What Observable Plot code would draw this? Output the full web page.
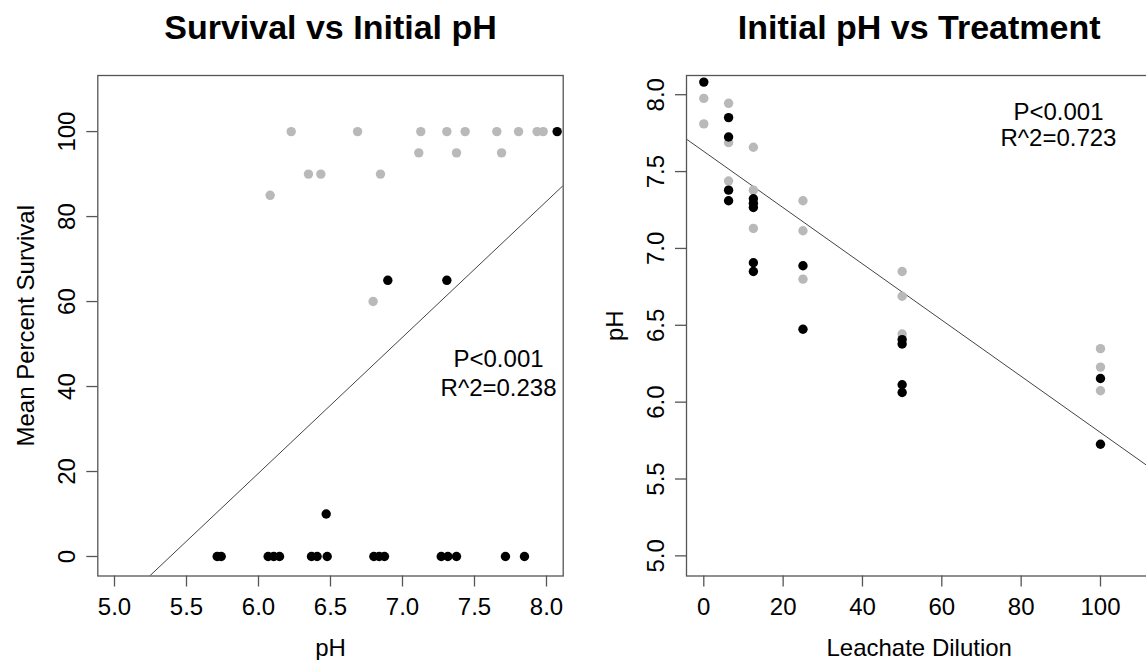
<!DOCTYPE html>
<html>
<head>
<meta charset="utf-8">
<script src="https://cdn.jsdelivr.net/npm/d3@7"></script>
<script src="https://cdn.jsdelivr.net/npm/@observablehq/plot@0.6"></script>
<style>
  html, body { margin: 0; padding: 0; background: #fff; overflow: hidden; }
  #wrap { position: relative; width: 1146px; height: 660px; overflow: hidden; background: #fff; }
  #L { position: absolute; left: 0; top: 0; width: 600px; height: 660px; }
  #R { position: absolute; left: 600px; top: 0; width: 600px; height: 660px; }
  #L svg, #R svg { max-width: none !important; width: 600px; height: 660px; display: block; }
</style>
</head>
<body>
<div id="wrap"><div id="L"></div><div id="R"></div></div>
<script>
// ---------- Left panel: Survival vs Initial pH ----------
const survGrayPH = [6.227, 6.688, 7.127, 7.308, 7.435, 7.655, 7.806, 7.935, 7.977,
                    7.113, 7.375, 7.688, 6.347, 6.433, 6.847, 6.081, 6.796];
const survGray   = [100, 100, 100, 100, 100, 100, 100, 100, 100,
                    95, 95, 95, 90, 90, 90, 85, 60];
const survBlackPH = [8.074, 6.898, 7.308, 6.470, 5.713, 5.741, 6.067, 6.106, 6.146,
                     6.368, 6.407, 6.477, 6.801, 6.838, 6.875, 7.269, 7.315, 7.375, 7.715, 7.847];
const survBlack   = [100, 65, 65, 10, 0, 0, 0, 0, 0,
                     0, 0, 0, 0, 0, 0, 0, 0, 0, 0, 0];
const leftFit = {intercept: -172.4, slope: 32.0};
const leftXTicks = [5.0, 5.5, 6.0, 6.5, 7.0, 7.5, 8.0];
const leftYTicks = [0, 20, 40, 60, 80, 100];
const leftStats = ["P<0.001", "R^2=0.238"];

// ---------- Right panel: Initial pH vs Treatment ----------
const grayDil = [0, 0, 6.25, 6.25, 6.25, 12.5, 12.5, 12.5, 25, 25, 25, 50, 50, 50, 100, 100, 100];
const grayPH  = [7.976, 7.810, 7.944, 7.688, 7.439, 7.658, 7.379, 7.130, 7.310, 7.115, 6.800,
                 6.850, 6.689, 6.443, 6.348, 6.228, 6.074];
const blackDil = [0, 6.25, 6.25, 6.25, 6.25, 12.5, 12.5, 12.5, 12.5, 12.5, 25, 25, 50, 50, 50, 50, 100, 100];
const blackPH  = [8.082, 7.851, 7.725, 7.379, 7.310, 7.323, 7.294, 7.266, 6.907, 6.850,
                  6.887, 6.474, 6.407, 6.378, 6.113, 6.063, 6.154, 5.726];
const rightFit = {intercept: 7.631, slope: -0.01829};
const rightXTicks = [0, 20, 40, 60, 80, 100];
const rightYTicks = [5.0, 5.5, 6.0, 6.5, 7.0, 7.5, 8.0];
const rightStats = ["P<0.001", "R^2=0.723"];

const FONT = "'Liberation Sans', Arial, Helvetica, sans-serif";
const GRAY = "#b9b9b9";
const AX = "#555";

const leftGray = survGrayPH.map((p, i) => ({x: p, y: survGray[i]}));
const leftBlack = survBlackPH.map((p, i) => ({x: p, y: survBlack[i]}));
const rightGray = grayDil.map((d, i) => ({x: d, y: grayPH[i]}));
const rightBlack = blackDil.map((d, i) => ({x: d, y: blackPH[i]}));

function fitLine(domain, fit) {
  return domain.map(x => ({x, y: fit.intercept + fit.slope * x}));
}

function panel({xDomain, yDomain, marginLeft, marginRight, gray, black, fit, xTicks, yTicks,
                xFmt, yFmt, title, xLabel, yLabel, statMarks}) {
  return Plot.plot({
    width: 600, height: 660,
    marginLeft, marginRight, marginTop: 75, marginBottom: 84.5,
    x: {domain: xDomain},
    y: {domain: yDomain},
    style: {fontFamily: FONT, background: "transparent", overflow: "visible", color: "black"},
    marks: [
      Plot.line(fitLine(xDomain, fit), {x: "x", y: "y", stroke: "#444", strokeWidth: 1, clip: true}),
      Plot.dot(gray, {x: "x", y: "y", r: 4.7, fill: GRAY, clip: true}),
      Plot.dot(black, {x: "x", y: "y", r: 4.7, fill: "black", clip: true}),
      Plot.frame({stroke: AX, strokeWidth: 1.3}),
      Plot.axisX({ticks: xTicks, tickSize: 11, tickPadding: 10.5, fontSize: 24,
                  tickFormat: xFmt, label: null, stroke: AX, strokeWidth: 1.3, fill: "black"}),
      Plot.axisY({ticks: yTicks, tickSize: 11, tickFormat: () => "", label: null,
                  stroke: AX, strokeWidth: 1.3}),
      Plot.text(yTicks, {y: d => d, text: yFmt, frameAnchor: "left", dx: -23, rotate: -90,
                         lineAnchor: "bottom", textAnchor: "middle", fontSize: 24, fill: "black"}),
      Plot.text([title], {frameAnchor: "top", dy: -37, lineAnchor: "bottom", fontSize: 34,
                          fontWeight: "bold", fill: "black"}),
      Plot.text([xLabel], {frameAnchor: "bottom", dy: 62.5, lineAnchor: "top", fontSize: 24, fill: "black"}),
      Plot.text([yLabel], {frameAnchor: "left", dx: -64, rotate: -90, lineAnchor: "bottom",
                           textAnchor: "middle", fontSize: 24, fill: "black"}),
      ...statMarks
    ]
  });
}

const left = panel({
  xDomain: [4.884, 8.116], yDomain: [-4.59, 113.2],
  marginLeft: 97.3, marginRight: 37.3,
  gray: leftGray, black: leftBlack, fit: leftFit,
  xTicks: leftXTicks, yTicks: leftYTicks,
  xFmt: d => d.toFixed(1), yFmt: d => String(d),
  title: "Survival vs Initial pH", xLabel: "pH", yLabel: "Mean Percent Survival",
  statMarks: [
    Plot.text([leftStats[0]], {x: 7.667, y: 46.4, fontSize: 24, fill: "black"}),
    Plot.text([leftStats[1]], {x: 7.667, y: 39.5, fontSize: 24, fill: "black"})
  ]
});

const right = panel({
  xDomain: [-4.36, 112.96], yDomain: [4.869, 8.125],
  marginLeft: 86, marginRight: 48.6,
  gray: rightGray, black: rightBlack, fit: rightFit,
  xTicks: rightXTicks, yTicks: rightYTicks,
  xFmt: d => String(d), yFmt: d => d.toFixed(1),
  title: "Initial pH vs Treatment", xLabel: "Leachate Dilution", yLabel: "pH",
  statMarks: [
    Plot.text([rightStats[0]], {x: 89.4, y: 7.888, fontSize: 24, fill: "black"}),
    Plot.text([rightStats[1]], {x: 89.4, y: 7.719, fontSize: 24, fill: "black"})
  ]
});

document.getElementById("L").appendChild(left);
document.getElementById("R").appendChild(right);
</script>
</body>
</html>
